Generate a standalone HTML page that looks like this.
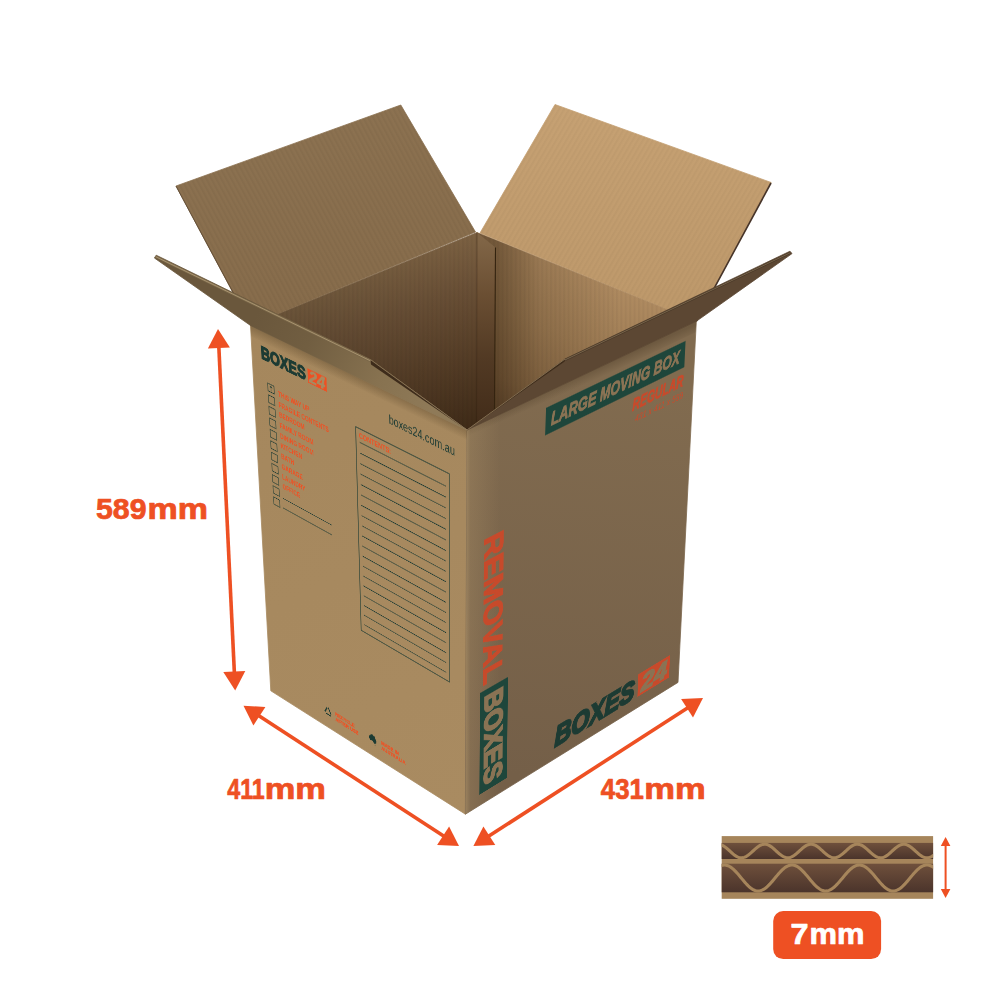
<!DOCTYPE html>
<html lang="en"><head><meta charset="utf-8"><title>Large Moving Box</title>
<style>
html,body{margin:0;padding:0;background:#fff}
body{width:1000px;height:1000px;position:relative;overflow:hidden;font-family:"Liberation Sans",sans-serif}
svg text{font-family:"Liberation Sans",sans-serif}
.main{position:absolute;left:0;top:0}
.face{position:absolute;left:0;top:0;transform-origin:0 0}
.face svg{display:block}
</style></head><body>
<svg class="main" width="1000" height="1000" viewBox="0 0 1000 1000">
<defs>
<linearGradient id="gLB" x1="0" y1="0" x2="0.3" y2="1"><stop offset="0" stop-color="#8d7352"/><stop offset="1" stop-color="#876c4b"/></linearGradient>
<linearGradient id="gRB" x1="0" y1="0" x2="0" y2="1"><stop offset="0" stop-color="#c6a173"/><stop offset="1" stop-color="#bd986a"/></linearGradient>
<linearGradient id="gIL" gradientUnits="userSpaceOnUse" x1="400" y1="264.5" x2="468.4" y2="431"><stop offset="0" stop-color="#7c6142"/><stop offset="0.25" stop-color="#6b5137"/><stop offset="0.6" stop-color="#563e27"/><stop offset="1" stop-color="#3e2a17"/></linearGradient>
<linearGradient id="gILx" gradientUnits="userSpaceOnUse" x1="270" y1="0" x2="477" y2="0"><stop offset="0" stop-color="#000" stop-opacity="0.16"/><stop offset="1" stop-color="#000" stop-opacity="0"/></linearGradient>
<linearGradient id="gIRx" gradientUnits="userSpaceOnUse" x1="495" y1="0" x2="620" y2="0"><stop offset="0" stop-color="#1a0d00" stop-opacity="0.40"/><stop offset="0.35" stop-color="#1a0d00" stop-opacity="0.14"/><stop offset="1" stop-color="#1a0d00" stop-opacity="0"/></linearGradient>
<pattern id="pV" width="4.4" height="20" patternUnits="userSpaceOnUse"><rect width="2" height="20" fill="#000" fill-opacity="0.035"/></pattern>
<pattern id="pL" width="4.4" height="20" patternUnits="userSpaceOnUse" patternTransform="rotate(-28.1)"><rect width="2" height="20" fill="#000" fill-opacity="0.035"/></pattern>
<pattern id="pR" width="4.4" height="20" patternUnits="userSpaceOnUse" patternTransform="rotate(30.3)"><rect width="2" height="20" fill="#000" fill-opacity="0.028"/></pattern>
<linearGradient id="gIR" gradientUnits="userSpaceOnUse" x1="600" y1="282.6" x2="532" y2="449"><stop offset="0" stop-color="#ae8a60"/><stop offset="0.35" stop-color="#9e7c54"/><stop offset="0.7" stop-color="#896945"/><stop offset="1" stop-color="#684c31"/></linearGradient>
<linearGradient id="gGl" gradientUnits="userSpaceOnUse" x1="486" y1="240" x2="486" y2="420"><stop offset="0" stop-color="#806546"/><stop offset="0.3" stop-color="#6b4f33"/><stop offset="0.65" stop-color="#523a24"/><stop offset="1" stop-color="#432d1a"/></linearGradient>
<linearGradient id="gFL" gradientUnits="userSpaceOnUse" x1="250" y1="330" x2="470" y2="810"><stop offset="0" stop-color="#a5875d"/><stop offset="1" stop-color="#a98b61"/></linearGradient>
<linearGradient id="gFR" gradientUnits="userSpaceOnUse" x1="600" y1="380" x2="560" y2="780"><stop offset="0" stop-color="#816b4f"/><stop offset="1" stop-color="#745f48"/></linearGradient>
<linearGradient id="gFlL" gradientUnits="userSpaceOnUse" x1="250" y1="326" x2="430" y2="412"><stop offset="0" stop-color="#6a573c"/><stop offset="0.3" stop-color="#715e41"/><stop offset="0.7" stop-color="#877250"/><stop offset="1" stop-color="#8f7a58"/></linearGradient>
<linearGradient id="gCell" x1="0" y1="0" x2="0" y2="1"><stop offset="0" stop-color="#6f503c"/><stop offset="1" stop-color="#4b342b"/></linearGradient>
</defs>
<polygon points="176.0,186.0 400.8,105.0 475.5,232.0 250.5,325.5" fill="url(#gLB)" stroke="url(#gLB)" stroke-width="0.8" stroke-linejoin="round" />
<polygon points="176.0,186.0 400.8,105.0 475.5,232.0 250.5,325.5" fill="url(#pL)"/>
<polygon points="555.0,104.5 771.2,182.5 696.3,321.3 480.0,233.0" fill="url(#gRB)" stroke="url(#gRB)" stroke-width="0.8" stroke-linejoin="round" />
<polygon points="555.0,104.5 771.2,182.5 696.3,321.3 480.0,233.0" fill="url(#pR)"/>
<polygon points="477.0,232.5 696.3,321.3 467.0,430.0 476.5,423.0" fill="url(#gIR)" stroke="url(#gIR)" stroke-width="0.8" stroke-linejoin="round" />
<polygon points="477.0,232.5 696.3,321.3 467.0,430.0 476.5,423.0" fill="url(#gIRx)"/>
<polygon points="477.0,232.5 696.3,321.3 467.0,430.0 476.5,423.0" fill="url(#pV)"/>
<polygon points="250.5,325.5 477.0,232.5 476.5,423.0 467.0,430.0" fill="url(#gIL)" stroke="url(#gIL)" stroke-width="0.8" stroke-linejoin="round" />
<polygon points="250.5,325.5 477.0,232.5 476.5,423.0 467.0,430.0" fill="url(#gILx)"/>
<polygon points="250.5,325.5 477.0,232.5 476.5,423.0 467.0,430.0" fill="url(#pV)"/>
<polygon points="477.0,232.5 495.5,247.5 494.5,410.0 476.5,423.0" fill="url(#gGl)"/>
<line x1="495.5" y1="247.5" x2="494.5" y2="410" stroke="#33230f" stroke-width="1.1"/>
<line x1="477" y1="233" x2="476.5" y2="423" stroke="#2a1b0c" stroke-opacity="0.35" stroke-width="1"/>
<line x1="176" y1="186" x2="235" y2="296" stroke="#5e4a33" stroke-width="0.9"/>
<line x1="771" y1="183" x2="696.3" y2="321.3" stroke="#46342a" stroke-width="1.6"/>
<polygon points="250.5,325.5 467.0,430.0 465.4,814.2 270.8,690.8" fill="url(#gFL)" stroke="url(#gFL)" stroke-width="0.8" stroke-linejoin="round" />
<polygon points="467.0,430.0 696.3,321.3 678.0,682.4 465.4,814.2" fill="url(#gFR)" stroke="url(#gFR)" stroke-width="0.8" stroke-linejoin="round" />
<linearGradient id="gShL" gradientUnits="userSpaceOnUse" x1="360" y1="378.5" x2="355.7" y2="387.5"><stop offset="0" stop-color="#3a2a14" stop-opacity="0.28"/><stop offset="1" stop-color="#3a2a14" stop-opacity="0"/></linearGradient>
<polygon points="250.5,325.5 467.0,430.0 467.0,441.0 251.0,336.5" fill="url(#gShL)"/>
<linearGradient id="gShR" gradientUnits="userSpaceOnUse" x1="580" y1="376" x2="584" y2="385"><stop offset="0" stop-color="#2a1c0c" stop-opacity="0.22"/><stop offset="1" stop-color="#2a1c0c" stop-opacity="0"/></linearGradient>
<polygon points="467.0,430.0 696.3,321.3 695.8,332.3 467.0,441.0" fill="url(#gShR)"/>
<linearGradient id="gEdge" gradientUnits="userSpaceOnUse" x1="466" y1="0" x2="500" y2="0"><stop offset="0" stop-color="#c9ab78" stop-opacity="0.42"/><stop offset="0.12" stop-color="#c9ab78" stop-opacity="0.2"/><stop offset="1" stop-color="#c9ab78" stop-opacity="0"/></linearGradient>
<polygon points="467.0,430.0 501.0,414.0 499.0,793.0 465.4,814.2" fill="url(#gEdge)"/>
<polygon points="250.5,325.5 154.4,258.0 156.2,255.2 370.4,359.6 467.0,430.0" fill="url(#gFlL)" stroke="url(#gFlL)" stroke-width="0.8" stroke-linejoin="round" />
<polygon points="696.3,321.3 792.0,253.6 790.0,251.2 565.0,359.0 467.0,430.0" fill="#5c4733" stroke="#5c4733" stroke-width="0.8" stroke-linejoin="round" />
<polygon points="370.4,359.6 371.0,364.6 467.0,430.0" fill="#3e2c1b"/>
<polygon points="565.0,359.0 564.7,361.6 467.0,430.0" fill="#3e2c1b"/>
<line x1="155.7" y1="256.7" x2="370.4" y2="360.8" stroke="#7a6749" stroke-width="2.4" stroke-opacity="1"/>
<line x1="155.7" y1="256.7" x2="370.4" y2="360.8" stroke="#ad9773" stroke-width="0.9" stroke-opacity="1"/>
<line x1="370.4" y1="359.6" x2="467.0" y2="430.0" stroke="#8f7a5a" stroke-width="0.8" stroke-opacity="1"/>
<line x1="790.0" y1="253.0" x2="565.0" y2="360.0" stroke="#4a3929" stroke-width="2.0" stroke-opacity="1"/>
<line x1="790.0" y1="252.9" x2="565.0" y2="359.9" stroke="#8a7558" stroke-width="0.7" stroke-opacity="1"/>
<line x1="565.0" y1="359.0" x2="467.0" y2="430.0" stroke="#8f7a5a" stroke-width="0.8" stroke-opacity="1"/>
<line x1="218.7" y1="344.2" x2="234.5" y2="675.4" stroke="#ee5023" stroke-width="3.6"/><polygon points="218.0,329.0 207.9,348.5 229.9,347.5" fill="#ee5023"/><polygon points="235.2,690.6 223.3,672.1 245.3,671.1" fill="#ee5023"/>
<line x1="256.2" y1="714.1" x2="446.3" y2="837.7" stroke="#ee5023" stroke-width="3.6"/><polygon points="243.5,705.8 253.4,725.4 265.4,706.9" fill="#ee5023"/><polygon points="459.0,846.0 437.1,844.9 449.1,826.4" fill="#ee5023"/>
<line x1="486.2" y1="837.8" x2="690.2" y2="706.2" stroke="#ee5023" stroke-width="3.6"/><polygon points="473.4,846.0 495.3,845.0 483.4,826.5" fill="#ee5023"/><polygon points="703.0,698.0 693.0,717.5 681.1,699.0" fill="#ee5023"/>
<line x1="945.6" y1="844.1" x2="945.6" y2="890.8" stroke="#ee5023" stroke-width="2"/><polygon points="945.6,836.9 940.8,845.9 950.4,845.9" fill="#ee5023"/><polygon points="945.6,898.0 940.8,889.0 950.4,889.0" fill="#ee5023"/>
<text y="519.3" font-size="28.6" font-weight="700" fill="#ee5023" stroke="#ee5023" stroke-width="0.7" stroke-linejoin="round"><tspan x="96" textLength="50.5" lengthAdjust="spacingAndGlyphs">589</tspan><tspan x="147.5" textLength="60.5" lengthAdjust="spacingAndGlyphs">mm</tspan></text>
<text y="798.7" font-size="28.6" font-weight="700" fill="#ee5023" stroke="#ee5023" stroke-width="0.7" stroke-linejoin="round"><tspan x="227.3" textLength="37.5" lengthAdjust="spacingAndGlyphs">411</tspan><tspan x="264.7" textLength="61.3" lengthAdjust="spacingAndGlyphs">mm</tspan></text>
<text y="798.7" font-size="28.6" font-weight="700" fill="#ee5023" stroke="#ee5023" stroke-width="0.7" stroke-linejoin="round"><tspan x="600.8" textLength="43" lengthAdjust="spacingAndGlyphs">431</tspan><tspan x="644.3" textLength="61.5" lengthAdjust="spacingAndGlyphs">mm</tspan></text>
<rect x="721.7" y="836.1" width="211.4" height="62.7" fill="#a6855b"/>
<rect x="721.7" y="842.9" width="211.4" height="16.1" fill="url(#gCell)"/>
<rect x="721.7" y="863.7" width="211.4" height="28.6" fill="url(#gCell)"/>
<clipPath id="cs"><rect x="721.7" y="836.1" width="211.4" height="62.7"/></clipPath>
<g clip-path="url(#cs)" fill="none" stroke="#a6855b" stroke-width="3.1">
<path d="M720.0,844.40 L721.0,844.68 L722.0,845.08 L723.0,845.59 L724.0,846.19 L725.0,846.88 L726.0,847.65 L727.0,848.48 L728.0,849.36 L729.0,850.26 L730.0,851.18 L731.0,852.10 L732.0,853.00 L733.0,853.86 L734.0,854.66 L735.0,855.40 L736.0,856.06 L737.0,856.63 L738.0,857.09 L739.0,857.44 L740.0,857.68 L741.0,857.79 L742.0,857.78 L743.0,857.64 L744.0,857.38 L745.0,857.01 L746.0,856.52 L747.0,855.94 L748.0,855.26 L749.0,854.51 L750.0,853.69 L751.0,852.82 L752.0,851.92 L753.0,851.00 L754.0,850.08 L755.0,849.18 L756.0,848.31 L757.0,847.49 L758.0,846.74 L759.0,846.06 L760.0,845.48 L761.0,844.99 L762.0,844.62 L763.0,844.36 L764.0,844.22 L765.0,844.21 L766.0,844.32 L767.0,844.56 L768.0,844.91 L769.0,845.37 L770.0,845.94 L771.0,846.60 L772.0,847.34 L773.0,848.14 L774.0,849.00 L775.0,849.90 L776.0,850.82 L777.0,851.74 L778.0,852.64 L779.0,853.52 L780.0,854.35 L781.0,855.12 L782.0,855.81 L783.0,856.41 L784.0,856.92 L785.0,857.32 L786.0,857.60 L787.0,857.76 L788.0,857.80 L789.0,857.71 L790.0,857.50 L791.0,857.17 L792.0,856.73 L793.0,856.18 L794.0,855.54 L795.0,854.82 L796.0,854.02 L797.0,853.17 L798.0,852.28 L799.0,851.37 L800.0,850.45 L801.0,849.54 L802.0,848.66 L803.0,847.81 L804.0,847.03 L805.0,846.32 L806.0,845.70 L807.0,845.17 L808.0,844.75 L809.0,844.45 L810.0,844.26 L811.0,844.20 L812.0,844.26 L813.0,844.45 L814.0,844.75 L815.0,845.17 L816.0,845.70 L817.0,846.32 L818.0,847.03 L819.0,847.81 L820.0,848.66 L821.0,849.54 L822.0,850.45 L823.0,851.37 L824.0,852.28 L825.0,853.17 L826.0,854.02 L827.0,854.82 L828.0,855.54 L829.0,856.18 L830.0,856.73 L831.0,857.17 L832.0,857.50 L833.0,857.71 L834.0,857.80 L835.0,857.76 L836.0,857.60 L837.0,857.32 L838.0,856.92 L839.0,856.41 L840.0,855.81 L841.0,855.12 L842.0,854.35 L843.0,853.52 L844.0,852.64 L845.0,851.74 L846.0,850.82 L847.0,849.90 L848.0,849.00 L849.0,848.14 L850.0,847.34 L851.0,846.60 L852.0,845.94 L853.0,845.37 L854.0,844.91 L855.0,844.56 L856.0,844.32 L857.0,844.21 L858.0,844.22 L859.0,844.36 L860.0,844.62 L861.0,844.99 L862.0,845.48 L863.0,846.06 L864.0,846.74 L865.0,847.49 L866.0,848.31 L867.0,849.18 L868.0,850.08 L869.0,851.00 L870.0,851.92 L871.0,852.82 L872.0,853.69 L873.0,854.51 L874.0,855.26 L875.0,855.94 L876.0,856.52 L877.0,857.01 L878.0,857.38 L879.0,857.64 L880.0,857.78 L881.0,857.79 L882.0,857.68 L883.0,857.44 L884.0,857.09 L885.0,856.63 L886.0,856.06 L887.0,855.40 L888.0,854.66 L889.0,853.86 L890.0,853.00 L891.0,852.10 L892.0,851.18 L893.0,850.26 L894.0,849.36 L895.0,848.48 L896.0,847.65 L897.0,846.88 L898.0,846.19 L899.0,845.59 L900.0,845.08 L901.0,844.68 L902.0,844.40 L903.0,844.24 L904.0,844.20 L905.0,844.29 L906.0,844.50 L907.0,844.83 L908.0,845.27 L909.0,845.82 L910.0,846.46 L911.0,847.18 L912.0,847.98 L913.0,848.83 L914.0,849.72 L915.0,850.63 L916.0,851.55 L917.0,852.46 L918.0,853.34 L919.0,854.19 L920.0,854.97 L921.0,855.68 L922.0,856.30 L923.0,856.83 L924.0,857.25 L925.0,857.55 L926.0,857.74 L927.0,857.80 L928.0,857.74 L929.0,857.55 L930.0,857.25 L931.0,856.83 L932.0,856.30 L933.0,855.68 L934.0,854.97 L935.0,854.19"/>
<path d="M720.0,866.08 L721.0,865.65 L722.0,865.32 L723.0,865.11 L724.0,865.01 L725.0,865.02 L726.0,865.14 L727.0,865.38 L728.0,865.72 L729.0,866.17 L730.0,866.73 L731.0,867.38 L732.0,868.12 L733.0,868.95 L734.0,869.85 L735.0,870.83 L736.0,871.87 L737.0,872.96 L738.0,874.10 L739.0,875.27 L740.0,876.46 L741.0,877.67 L742.0,878.88 L743.0,880.08 L744.0,881.26 L745.0,882.42 L746.0,883.54 L747.0,884.60 L748.0,885.62 L749.0,886.56 L750.0,887.44 L751.0,888.23 L752.0,888.93 L753.0,889.53 L754.0,890.04 L755.0,890.45 L756.0,890.74 L757.0,890.93 L758.0,891.00 L759.0,890.96 L760.0,890.81 L761.0,890.55 L762.0,890.17 L763.0,889.70 L764.0,889.12 L765.0,888.45 L766.0,887.68 L767.0,886.83 L768.0,885.91 L769.0,884.91 L770.0,883.86 L771.0,882.76 L772.0,881.61 L773.0,880.44 L774.0,879.24 L775.0,878.03 L776.0,876.82 L777.0,875.62 L778.0,874.45 L779.0,873.30 L780.0,872.19 L781.0,871.14 L782.0,870.14 L783.0,869.21 L784.0,868.36 L785.0,867.59 L786.0,866.91 L787.0,866.33 L788.0,865.85 L789.0,865.47 L790.0,865.20 L791.0,865.05 L792.0,865.00 L793.0,865.07 L794.0,865.25 L795.0,865.54 L796.0,865.94 L797.0,866.44 L798.0,867.04 L799.0,867.74 L800.0,868.52 L801.0,869.39 L802.0,870.33 L803.0,871.34 L804.0,872.41 L805.0,873.53 L806.0,874.68 L807.0,875.86 L808.0,877.06 L809.0,878.27 L810.0,879.48 L811.0,880.67 L812.0,881.84 L813.0,882.98 L814.0,884.08 L815.0,885.12 L816.0,886.10 L817.0,887.01 L818.0,887.84 L819.0,888.59 L820.0,889.24 L821.0,889.80 L822.0,890.26 L823.0,890.61 L824.0,890.85 L825.0,890.98 L826.0,890.99 L827.0,890.90 L828.0,890.69 L829.0,890.37 L830.0,889.95 L831.0,889.42 L832.0,888.79 L833.0,888.07 L834.0,887.27 L835.0,886.38 L836.0,885.42 L837.0,884.39 L838.0,883.32 L839.0,882.19 L840.0,881.03 L841.0,879.84 L842.0,878.64 L843.0,877.43 L844.0,876.22 L845.0,875.03 L846.0,873.87 L847.0,872.74 L848.0,871.66 L849.0,870.63 L850.0,869.67 L851.0,868.78 L852.0,867.96 L853.0,867.24 L854.0,866.61 L855.0,866.08 L856.0,865.65 L857.0,865.32 L858.0,865.11 L859.0,865.01 L860.0,865.02 L861.0,865.14 L862.0,865.38 L863.0,865.72 L864.0,866.17 L865.0,866.73 L866.0,867.38 L867.0,868.12 L868.0,868.95 L869.0,869.85 L870.0,870.83 L871.0,871.87 L872.0,872.96 L873.0,874.10 L874.0,875.27 L875.0,876.46 L876.0,877.67 L877.0,878.88 L878.0,880.08 L879.0,881.26 L880.0,882.42 L881.0,883.54 L882.0,884.60 L883.0,885.62 L884.0,886.56 L885.0,887.44 L886.0,888.23 L887.0,888.93 L888.0,889.53 L889.0,890.04 L890.0,890.45 L891.0,890.74 L892.0,890.93 L893.0,891.00 L894.0,890.96 L895.0,890.81 L896.0,890.55 L897.0,890.17 L898.0,889.70 L899.0,889.12 L900.0,888.45 L901.0,887.68 L902.0,886.83 L903.0,885.91 L904.0,884.91 L905.0,883.86 L906.0,882.76 L907.0,881.61 L908.0,880.44 L909.0,879.24 L910.0,878.03 L911.0,876.82 L912.0,875.62 L913.0,874.45 L914.0,873.30 L915.0,872.19 L916.0,871.14 L917.0,870.14 L918.0,869.21 L919.0,868.36 L920.0,867.59 L921.0,866.91 L922.0,866.33 L923.0,865.85 L924.0,865.47 L925.0,865.20 L926.0,865.05 L927.0,865.00 L928.0,865.07 L929.0,865.25 L930.0,865.54 L931.0,865.94 L932.0,866.44 L933.0,867.04 L934.0,867.74 L935.0,868.52"/>
</g>
<rect x="773.2" y="911" width="107.9" height="48.1" rx="10" fill="#ee5023"/>
<text y="944.3" font-size="28.6" font-weight="700" fill="#fff" stroke="#fff" stroke-width="0.7" stroke-linejoin="round"><tspan x="790.6" textLength="18" lengthAdjust="spacingAndGlyphs">7</tspan><tspan x="809.4" textLength="55" lengthAdjust="spacingAndGlyphs">mm</tspan></text>
</svg>
<div class="face" style="width:411px;height:589px;transform:matrix3d(0.43005265,0.16520892,0,-0.00020709066,0.085884429,0.75137215,0,0.000189879,0,0,1,0,250.5,325.5,0,1)">
<svg width="411" height="589" viewBox="0 0 411 589">
<text x="19" y="41.5" font-size="26" font-weight="700" fill="#1d3b33" textLength="91" lengthAdjust="spacingAndGlyphs" stroke="#1d3b33" stroke-width="1.9">BOXES</text>
<rect x="114" y="22.5" width="37.5" height="20.5" fill="#ee5023"/><text x="116.5" y="41" font-size="23" font-weight="700" font-style="italic" fill="#a88a60" stroke="#a88a60" stroke-width="0.8" textLength="32" lengthAdjust="spacingAndGlyphs">24</text>
<rect x="30" y="74.0" width="13" height="11.5" fill="none" stroke="#1d3b33" stroke-width="1.1"/>
<text x="51" y="86.0" font-size="10" font-weight="700" fill="#ee5023">THIS WAY UP</text>
<rect x="30" y="91.5" width="13" height="11.5" fill="none" stroke="#1d3b33" stroke-width="1.1"/>
<text x="51" y="101.7" font-size="10" font-weight="700" fill="#ee5023">FRAGILE CONTENTS</text>
<rect x="30" y="108.9" width="13" height="11.5" fill="none" stroke="#1d3b33" stroke-width="1.1"/>
<text x="51" y="117.4" font-size="10" font-weight="700" fill="#ee5023">BEDROOM</text>
<rect x="30" y="126.3" width="13" height="11.5" fill="none" stroke="#1d3b33" stroke-width="1.1"/>
<text x="51" y="133.1" font-size="10" font-weight="700" fill="#ee5023">FAMILY ROOM</text>
<rect x="30" y="143.8" width="13" height="11.5" fill="none" stroke="#1d3b33" stroke-width="1.1"/>
<text x="51" y="148.8" font-size="10" font-weight="700" fill="#ee5023">DINING ROOM</text>
<rect x="30" y="161.2" width="13" height="11.5" fill="none" stroke="#1d3b33" stroke-width="1.1"/>
<text x="51" y="164.5" font-size="10" font-weight="700" fill="#ee5023">KITCHEN</text>
<rect x="30" y="178.7" width="13" height="11.5" fill="none" stroke="#1d3b33" stroke-width="1.1"/>
<text x="51" y="180.2" font-size="10" font-weight="700" fill="#ee5023">BATH</text>
<rect x="30" y="196.1" width="13" height="11.5" fill="none" stroke="#1d3b33" stroke-width="1.1"/>
<text x="51" y="195.9" font-size="10" font-weight="700" fill="#ee5023">GARAGE</text>
<rect x="30" y="213.6" width="13" height="11.5" fill="none" stroke="#1d3b33" stroke-width="1.1"/>
<text x="51" y="211.6" font-size="10" font-weight="700" fill="#ee5023">LAUNDRY</text>
<rect x="30" y="231.0" width="13" height="11.5" fill="none" stroke="#1d3b33" stroke-width="1.1"/>
<text x="51" y="227.3" font-size="10" font-weight="700" fill="#ee5023">OFFICE</text>
<rect x="30" y="248.5" width="13" height="11.5" fill="none" stroke="#1d3b33" stroke-width="1.1"/>
<path d="M36.5 76.5v7M34 79l2.5-2.5 2.5 2.5" stroke="#1d3b33" stroke-width="1.2" fill="none"/>
<path d="M50 242.5H152M50 258H152" stroke="#1d3b33" stroke-width="1.1"/>
<text x="270" y="44" font-size="19" fill="#1d3b33" textLength="120" lengthAdjust="spacingAndGlyphs">boxes24.com.au</text>
<rect x="206" y="73" width="174" height="313" fill="none" stroke="#1d3b33" stroke-width="1.2"/>
<text x="212" y="87" font-size="10.5" font-weight="700" fill="#ee5023">CONTENTS:</text>
<path d="M213 93.0H374M213 108.6H374M213 124.2H374M213 139.8H374M213 155.4H374M213 171.0H374M213 186.6H374M213 202.2H374M213 217.8H374M213 233.4H374M213 249.0H374M213 264.6H374M213 280.2H374M213 295.8H374M213 311.4H374M213 327.0H374M213 342.6H374M213 358.2H374M213 373.8H374" stroke="#1d3b33" stroke-width="1.1"/>
<g transform="translate(129,560)" fill="none" stroke="#1d3b33" stroke-width="2.2" stroke-linejoin="round"><path d="M0,-8 L8,6 L-8,6 Z" stroke-dasharray="11 5.1" stroke-dashoffset="-2"/></g>
<text x="145" y="560" font-size="8.6" font-weight="700" fill="#ee5023" stroke="#ee5023" stroke-width="0.35">RECYCLE</text><text x="145" y="569.5" font-size="8.6" font-weight="700" fill="#ee5023" stroke="#ee5023" stroke-width="0.35">AFTER USE</text>
<path transform="translate(216,551) scale(1.25)" d="M0.5,5.5 L2.5,3.5 L4,1.5 L6,1.8 L7,0.3 L8.2,2.8 L9.5,1.2 L10.6,4 L12.6,7 L12.2,10.2 L10.4,12.4 L8.2,12 L7.3,10.4 L5.2,9.6 L2.2,10.6 L0.8,8.4Z M9.4,13.6 l1.5,0.1 l-0.6,1.3z" fill="#1d3b33"/>
<text x="242" y="560" font-size="8.6" font-weight="700" fill="#ee5023" stroke="#ee5023" stroke-width="0.35">MADE IN</text><text x="242" y="569.5" font-size="8.6" font-weight="700" fill="#ee5023" stroke="#ee5023" stroke-width="0.35">AUSTRALIA</text>
</svg>
</div>
<div class="face" style="width:431px;height:589px;transform:matrix3d(0.68654079,-0.18090159,0,0.00022191904,0.065856389,0.77225769,0,0.00014734176,0,0,1,0,467,430,0,1)">
<svg width="431" height="589" viewBox="0 0 431 589">
<rect x="140" y="22.5" width="270.5" height="40" fill="#1e463b"/>
<text x="150" y="52" font-size="27" font-weight="700" font-style="italic" fill="#8a7354" stroke="#8a7354" stroke-width="1.3" textLength="250" lengthAdjust="spacingAndGlyphs">LARGE MOVING BOX</text>
<text x="307" y="91" font-size="25" font-weight="700" font-style="italic" fill="#c74a2b" stroke="#c74a2b" stroke-width="1" textLength="103" lengthAdjust="spacingAndGlyphs">REGULAR</text>
<text x="313" y="110" font-size="14.5" font-style="italic" font-weight="400" fill="#c74a2b" textLength="98" lengthAdjust="spacingAndGlyphs">431 x 411 x 589</text>
<g transform="translate(32,170) rotate(90)"><text x="0" y="0" font-size="49" font-weight="700" fill="#c74a2b" stroke="#c74a2b" stroke-width="2" textLength="228" lengthAdjust="spacingAndGlyphs">REMOVAL</text></g>
<rect x="26" y="405.5" width="52" height="165.5" fill="#1e463b"/>
<g transform="translate(35,414) rotate(90)"><text x="0" y="0" font-size="48" font-weight="700" fill="#8a7354" textLength="148" lengthAdjust="spacingAndGlyphs" stroke="#8a7354" stroke-width="3">BOXES</text></g>
<text x="171" y="569" font-size="48" font-weight="700" font-style="italic" fill="#1d3b33" textLength="164" lengthAdjust="spacingAndGlyphs" stroke="#1d3b33" stroke-width="3.6">BOXES</text>
<rect x="342" y="531" width="68" height="39" fill="#c74a2b"/><text x="349" y="565.5" font-size="40" font-weight="700" font-style="italic" fill="#8a7354" stroke="#8a7354" stroke-width="2.4" textLength="56" lengthAdjust="spacingAndGlyphs">24</text>
</svg>
</div>
</body></html>
